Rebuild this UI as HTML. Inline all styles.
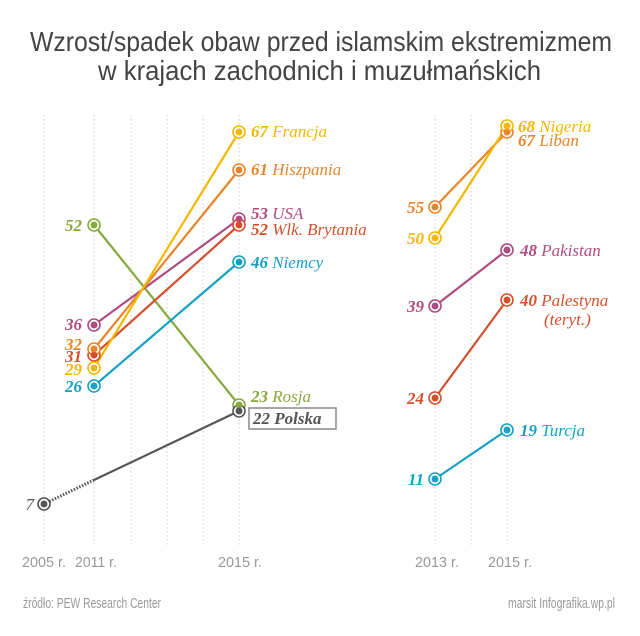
<!DOCTYPE html>
<html><head><meta charset="utf-8"><style>
body{margin:0;background:#fff;}
svg{display:block}
.t{font-family:"Liberation Sans Narrow","Liberation Sans",sans-serif;fill:#444;}
.n{font-family:"Liberation Serif",serif;font-style:italic;font-weight:bold;font-size:17px;}
.l{font-family:"Liberation Serif",serif;font-style:italic;font-size:17px;}
.ax{font-family:"Liberation Sans Narrow","Liberation Sans",sans-serif;font-size:15px;fill:#999;}
</style></head><body>
<svg width="640" height="636" viewBox="0 0 640 636">
<text class="t" x="30" y="51" font-size="28" textLength="582" lengthAdjust="spacingAndGlyphs">Wzrost/spadek obaw przed islamskim ekstremizmem</text>
<text class="t" x="98" y="80" font-size="28" textLength="443" lengthAdjust="spacingAndGlyphs">w krajach zachodnich i muzułmańskich</text>
<g stroke="#ccc" stroke-width="1" stroke-dasharray="1.5,2.5">
<line x1="44" y1="115" x2="44" y2="545"/><line x1="94" y1="115" x2="94" y2="545"/>
<line x1="131" y1="115" x2="131" y2="545"/><line x1="167" y1="115" x2="167" y2="545"/>
<line x1="203" y1="115" x2="203" y2="545"/><line x1="239" y1="115" x2="239" y2="545"/>
<line x1="435" y1="115" x2="435" y2="545"/><line x1="471" y1="115" x2="471" y2="545"/>
<line x1="507" y1="115" x2="507" y2="545"/>
</g>
<g stroke-width="2.2" fill="none">
<line x1="94" y1="225" x2="239" y2="405" stroke="#86a83c"/>
<line x1="94" y1="325" x2="239" y2="219" stroke="#b04c80"/>
<line x1="94" y1="355" x2="239" y2="225" stroke="#d4502c"/>
<line x1="94" y1="349" x2="239" y2="170" stroke="#e8852a"/>
<line x1="94" y1="368" x2="239" y2="132" stroke="#f5b700"/>
<line x1="94" y1="386" x2="239" y2="262" stroke="#15a0c6"/>
<line x1="94" y1="480" x2="239" y2="411" stroke="#555"/>
<line x1="44" y1="504" x2="94" y2="480" stroke="#555" stroke-dasharray="1.5,1.5" stroke-width="3"/>
<line x1="435" y1="207" x2="507" y2="132" stroke="#e8852a"/>
<line x1="435" y1="238" x2="507" y2="126" stroke="#f5b700"/>
<line x1="435" y1="306" x2="507" y2="250" stroke="#b04c80"/>
<line x1="435" y1="398" x2="507" y2="300" stroke="#d4502c"/>
<line x1="435" y1="479" x2="507" y2="430" stroke="#15a0c6"/>
</g>
<g stroke-width="1.6" fill="#fff">
<g stroke="#86a83c"><circle cx="94" cy="225" r="6"/><circle cx="239" cy="405" r="6"/></g>
<g stroke="#b04c80"><circle cx="94" cy="325" r="6"/><circle cx="239" cy="219" r="6"/><circle cx="435" cy="306" r="6"/><circle cx="507" cy="250" r="6"/></g>
<g stroke="#d4502c"><circle cx="94" cy="355" r="6"/><circle cx="239" cy="225" r="6"/><circle cx="435" cy="398" r="6"/><circle cx="507" cy="300" r="6"/></g>
<g stroke="#e8852a"><circle cx="94" cy="349" r="6"/><circle cx="239" cy="170" r="6"/><circle cx="435" cy="207" r="6"/><circle cx="507" cy="132" r="6"/></g>
<g stroke="#f5b700"><circle cx="94" cy="368" r="6"/><circle cx="239" cy="132" r="6"/><circle cx="435" cy="238" r="6"/><circle cx="507" cy="126" r="6"/></g>
<g stroke="#15a0c6"><circle cx="94" cy="386" r="6"/><circle cx="239" cy="262" r="6"/><circle cx="435" cy="479" r="6"/><circle cx="507" cy="430" r="6"/></g>
<g stroke="#555"><circle cx="44" cy="504" r="6"/><circle cx="239" cy="411" r="6"/></g>
</g>
<g>
<g fill="#86a83c"><circle cx="94" cy="225" r="3.5"/><circle cx="239" cy="405" r="3.5"/></g>
<g fill="#b04c80"><circle cx="94" cy="325" r="3.5"/><circle cx="239" cy="219" r="3.5"/><circle cx="435" cy="306" r="3.5"/><circle cx="507" cy="250" r="3.5"/></g>
<g fill="#d4502c"><circle cx="94" cy="355" r="3.5"/><circle cx="239" cy="225" r="3.5"/><circle cx="435" cy="398" r="3.5"/><circle cx="507" cy="300" r="3.5"/></g>
<g fill="#e8852a"><circle cx="94" cy="349" r="3.5"/><circle cx="239" cy="170" r="3.5"/><circle cx="435" cy="207" r="3.5"/><circle cx="507" cy="132" r="3.5"/></g>
<g fill="#f5b700"><circle cx="94" cy="368" r="3.5"/><circle cx="239" cy="132" r="3.5"/><circle cx="435" cy="238" r="3.5"/><circle cx="507" cy="126" r="3.5"/></g>
<g fill="#15a0c6"><circle cx="94" cy="386" r="3.5"/><circle cx="239" cy="262" r="3.5"/><circle cx="435" cy="479" r="3.5"/><circle cx="507" cy="430" r="3.5"/></g>
<g fill="#555"><circle cx="44" cy="504" r="3.5"/><circle cx="239" cy="411" r="3.5"/></g>
</g>
<g text-anchor="end">
<text class="n" x="82" y="231" fill="#86a83c">52</text>
<text class="n" x="82" y="330" fill="#b04c80">36</text>
<text class="n" x="82" y="350" fill="#e8852a">32</text>
<text class="n" x="82" y="362" fill="#d4502c">31</text>
<text class="n" x="82" y="375" fill="#f5b700">29</text>
<text class="n" x="82" y="392" fill="#15a0c6">26</text>
<text class="l" x="34" y="510" fill="#555">7</text>
<text class="n" x="424" y="213" fill="#e8852a">55</text>
<text class="n" x="424" y="244" fill="#f5b700">50</text>
<text class="n" x="424" y="312" fill="#b04c80">39</text>
<text class="n" x="424" y="404" fill="#d4502c">24</text>
<text class="n" x="424" y="485" fill="#15a0c6">11</text>
</g>
<text x="251" y="137" fill="#f5b700"><tspan class="n">67 </tspan><tspan class="l">Francja</tspan></text>
<text x="251" y="175" fill="#e8852a"><tspan class="n">61 </tspan><tspan class="l">Hiszpania</tspan></text>
<text x="251" y="219" fill="#b04c80"><tspan class="n">53 </tspan><tspan class="l">USA</tspan></text>
<text x="251" y="235" fill="#d4502c"><tspan class="n">52 </tspan><tspan class="l">Wlk. Brytania</tspan></text>
<text x="251" y="268" fill="#15a0c6"><tspan class="n">46 </tspan><tspan class="l">Niemcy</tspan></text>
<text x="251" y="402" fill="#86a83c"><tspan class="n">23 </tspan><tspan class="l">Rosja</tspan></text>
<rect x="249" y="408" width="87" height="21" fill="#fff" stroke="#888" stroke-width="1.5"/>
<text x="253" y="424" class="n" fill="#555">22 Polska</text>
<text x="518" y="132" fill="#f5b700"><tspan class="n">68 </tspan><tspan class="l">Nigeria</tspan></text>
<text x="518" y="146" fill="#e8852a"><tspan class="n">67 </tspan><tspan class="l">Liban</tspan></text>
<text x="520" y="256" fill="#b04c80"><tspan class="n">48 </tspan><tspan class="l">Pakistan</tspan></text>
<text x="520" y="306" fill="#d4502c"><tspan class="n">40 </tspan><tspan class="l">Palestyna</tspan></text>
<text x="544" y="325" class="l" fill="#d4502c">(teryt.)</text>
<text x="520" y="436" fill="#15a0c6"><tspan class="n">19 </tspan><tspan class="l">Turcja</tspan></text>
<g class="ax">
<text x="22" y="567" textLength="44" lengthAdjust="spacingAndGlyphs">2005 r.</text>
<text x="75" y="567" textLength="42" lengthAdjust="spacingAndGlyphs">2011 r.</text>
<text x="218" y="567" textLength="44" lengthAdjust="spacingAndGlyphs">2015 r.</text>
<text x="415" y="567" textLength="44" lengthAdjust="spacingAndGlyphs">2013 r.</text>
<text x="488" y="567" textLength="44" lengthAdjust="spacingAndGlyphs">2015 r.</text>
</g>
<text class="ax" x="23" y="608" font-size="13" textLength="138" lengthAdjust="spacingAndGlyphs">źródło: PEW Research Center</text>
<text class="ax" x="508" y="608" font-size="13" textLength="107" lengthAdjust="spacingAndGlyphs">marsit Infografika.wp.pl</text>
</svg>
</body></html>
